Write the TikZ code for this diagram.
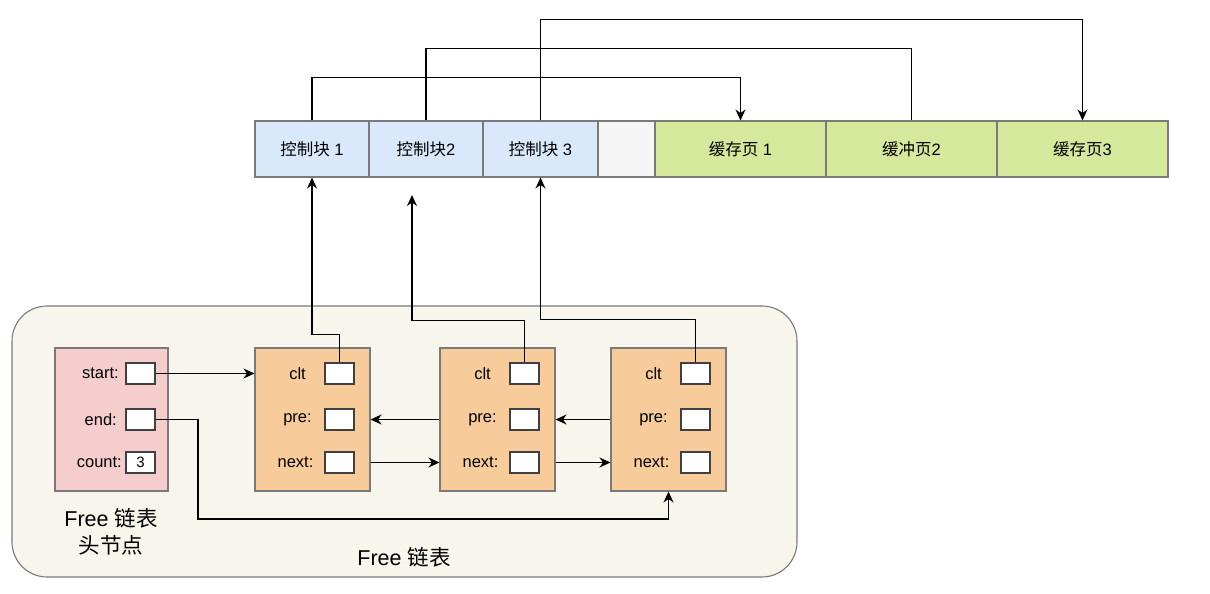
\documentclass[tikz,border=0pt]{standalone}
\usepackage{fontspec}
\setmainfont{Liberation Sans}
\newfontfamily\cjk{Noto Sans CJK SC}
\usetikzlibrary{arrows.meta}
\definecolor{cblue}{HTML}{DAE8FC}
\definecolor{cgreen}{HTML}{D5E89C}
\definecolor{cgray}{HTML}{F5F5F5}
\definecolor{corange}{HTML}{F7CC9A}
\definecolor{cpink}{HTML}{F5CDCC}
\definecolor{cbg}{HTML}{F8F6EC}
\definecolor{cborder}{HTML}{7A7A7A}
\tikzset{
  cell/.style={draw=cborder, line width=1.1pt, minimum height=56pt, inner sep=0pt, font=\fontsize{16.5}{19}\selectfont},
  listnode/.style={draw=cborder, line width=1.1pt, minimum width=115pt, minimum height=143pt, inner sep=0pt},
  field/.style={draw=black!75, fill=white, line width=1.3pt, minimum width=29pt, minimum height=21pt, inner sep=0pt, font=\fontsize{15}{17}\selectfont},
  lbl/.style={inner sep=0pt, font=\fontsize{16.5}{19}\selectfont},
  conn/.style={line width=1.3pt, black},
  arr/.style={conn, -{Stealth[length=11pt, width=10pt]}},
}
\begin{document}
\begin{tikzpicture}[x=1pt, y=-1pt]
\useasboundingbox (0,0) rectangle (1210,594);
% container
\node[draw=cborder, fill=cbg, line width=1.1pt, rounded corners=35pt, minimum width=785pt, minimum height=271pt, inner sep=0pt] (box) at (404.5,441.5) {};
% top row
\node[cell, fill=cblue, minimum width=114pt] (cb1) at (312,149) {{\cjk 控制块} 1};
\node[cell, fill=cblue, minimum width=114pt] (cb2) at (426,149) {{\cjk 控制块}2};
\node[cell, fill=cblue, minimum width=115pt] (cb3) at (540.5,149) {{\cjk 控制块} 3};
\node[cell, fill=cgray, minimum width=57pt] (emp) at (626.5,149) {};
\node[cell, fill=cgreen, minimum width=171pt] (p1) at (740.5,149) {{\cjk 缓存页} 1};
\node[cell, fill=cgreen, minimum width=171pt] (p2) at (911.5,149) {{\cjk 缓冲页}2};
\node[cell, fill=cgreen, minimum width=171pt] (p3) at (1082.5,149) {{\cjk 缓存页}3};
% head node
\node[listnode, fill=cpink, minimum width=113pt] (head) at (111.5,419.5) {};
\node[field] (hs) at (140.5,373.5) {};
\node[field] (he) at (140.5,419.5) {};
\node[field] (hc) at (140.5,462.5) {3};
\node[lbl, anchor=east] (hsl) at (119,373.5) {start:};
\node[lbl, anchor=east] (hel) at (117,419.5) {end:};
\node[lbl, anchor=east] (hcl) at (122,462.5) {count:};
\node[align=center, inner sep=0pt, font=\fontsize{21.5}{27}\selectfont] (htxt) at (111,532) {Free {\cjk 链表}\\{\cjk 头节点}};
% list nodes
\foreach \n/\x in {n1/312.5, n2/497.5, n3/668.5}{
  \node[listnode, fill=corange] (\n) at (\x,419.5) {};
  \node[field] (\n c) at (\x+27,373.5) {};
  \node[field] (\n p) at (\x+27,419.5) {};
  \node[field] (\n n) at (\x+27,462.5) {};
  \node[lbl] (\n cl) at (\x-15,373.5) {clt};
  \node[lbl] (\n pl) at (\x-15,419.5) {pre:};
  \node[lbl] (\n nl) at (\x-17,462.5) {next:};
}
\node[inner sep=0pt, font=\fontsize{21.5}{26}\selectfont] (ftxt) at (404,557) {Free {\cjk 链表}};
% connectors in list
\draw[arr] (hs.east) -- (n1.west |- hs.east);
\coordinate (eturn) at (198,519);
\draw[arr] (he.east) -| (eturn) -| (n3.south);
\draw[arr] (n1.east |- n1n.east) -- (n2.west |- n1n.east);
\draw[arr] (n2.east |- n2n.east) -- (n3.west |- n2n.east);
\draw[arr] (n2.west |- n2p.east) -- (n1.east |- n2p.east);
\draw[arr] (n3.west |- n3p.east) -- (n2.east |- n3p.east);
% clt connectors
\coordinate (c2end) at (412,195);
\draw[arr] (n1c.north) -- ++(0,-28) -| (cb1.south);
\draw[arr] (n2c.north) -- ++(0,-42) -| (c2end);
\draw[arr] (n3c.north) -- ++(0,-43) -| (cb3.south);
% top connectors
\draw[arr] (cb1.north) -- ++(0,-43) -| (p1.north);
\draw[conn] (cb2.north) -- ++(0,-72) -| (p2.north);
\draw[arr] (cb3.north) -- ++(0,-101) -| (p3.north);
\end{tikzpicture}
\end{document}
